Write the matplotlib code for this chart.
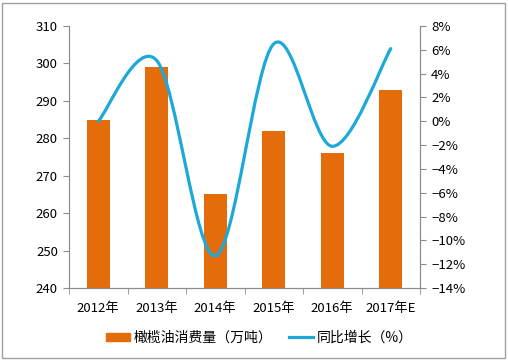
import matplotlib
matplotlib.use("Agg")
import matplotlib.pyplot as plt
from matplotlib.path import Path
from matplotlib.patches import PathPatch, Rectangle
from matplotlib.lines import Line2D
from matplotlib.ticker import FuncFormatter
import numpy as np

plt.rcParams['font.family'] = ['Noto Sans CJK SC', 'DejaVu Sans']

categories = ["2012年", "2013年", "2014年", "2015年", "2016年", "2017年E"]
consumption = [285, 299, 265, 282, 276, 293]          # 万吨
growth = [0.0, 5.1, -11.3, 6.5, -2.1, 6.1]            # %
left_ticks = [240, 250, 260, 270, 280, 290, 300, 310]
right_ticks = [-14, -12, -10, -8, -6, -4, -2, 0, 2, 4, 6, 8]

bar_color = "#E46C0A"
line_color = "#1DA8DA"
axis_color = "#8C8C8C"

fig = plt.figure(figsize=(5.08, 3.6), dpi=100)
ax = fig.add_axes([69/508, 1-288/360, (420-69)/508, (288-26)/360])
x = np.arange(len(categories))
ax.bar(x, consumption, width=0.39, color=bar_color, zorder=2)
ax.set_xlim(-0.5, len(categories)-0.5)
ax.set_ylim(240, 310)
ax.set_yticks(left_ticks)
ax.set_xticks(x)
ax.set_xticklabels(categories)
ax.set_xticks(np.arange(len(categories)+1)-0.5, minor=True)
ax.tick_params(axis='x', which='major', length=0, pad=10, labelsize=9.5)
ax.tick_params(axis='x', which='minor', length=4, color=axis_color, direction='out')
ax.tick_params(axis='y', length=4, color=axis_color, labelsize=9.5, pad=4)
for s in ['top']:
    ax.spines[s].set_visible(False)
for s in ['left', 'bottom', 'right']:
    ax.spines[s].set_color(axis_color)

ax2 = ax.twinx()
ax2.set_ylim(-14, 8)
ax2.set_yticks(right_ticks)
ax2.yaxis.set_major_formatter(FuncFormatter(lambda v, p: f"{int(v)}%".replace('-', '−')))
ax2.tick_params(axis='y', length=4, color=axis_color, labelsize=9.5, pad=4)
ax2.spines['top'].set_visible(False)
for s in ['left', 'bottom', 'right']:
    ax2.spines[s].set_color(axis_color)

# smooth line (Catmull-Rom via cubic Bezier segments)
pts = np.column_stack([x, growth]).astype(float)
verts = [tuple(pts[0])]
codes = [Path.MOVETO]
n = len(pts)
for i in range(n-1):
    p0 = pts[i-1] if i > 0 else pts[i]
    p1 = pts[i]
    p2 = pts[i+1]
    p3 = pts[i+2] if i+2 < n else pts[i+1]
    c1 = p1 + (p2 - p0)/6
    c2 = p2 - (p3 - p1)/6
    verts += [tuple(c1), tuple(c2), tuple(p2)]
    codes += [Path.CURVE4]*3
ax2.add_patch(PathPatch(Path(verts, codes), facecolor='none', edgecolor=line_color,
                        lw=2.3, zorder=3, capstyle='round'))

# legend
handles = [Rectangle((0, 0), 1, 1, color=bar_color),
           Line2D([], [], color=line_color, lw=2.3)]
fig.legend(handles, ["橄榄油消费量（万吨）", "同比增长（%）"], loc='center',
           bbox_to_anchor=(259/508, 1-338/360), ncol=2, frameon=False, fontsize=10,
           handlelength=1.75, handleheight=0.55, columnspacing=1.2, handletextpad=0.25)

fig.patches.append(Rectangle((2/508, 2/360), 503/508, 355/360, transform=fig.transFigure,
                             fill=False, edgecolor='#A0A0A0', lw=1))

fig.savefig("out.png", dpi=100)
